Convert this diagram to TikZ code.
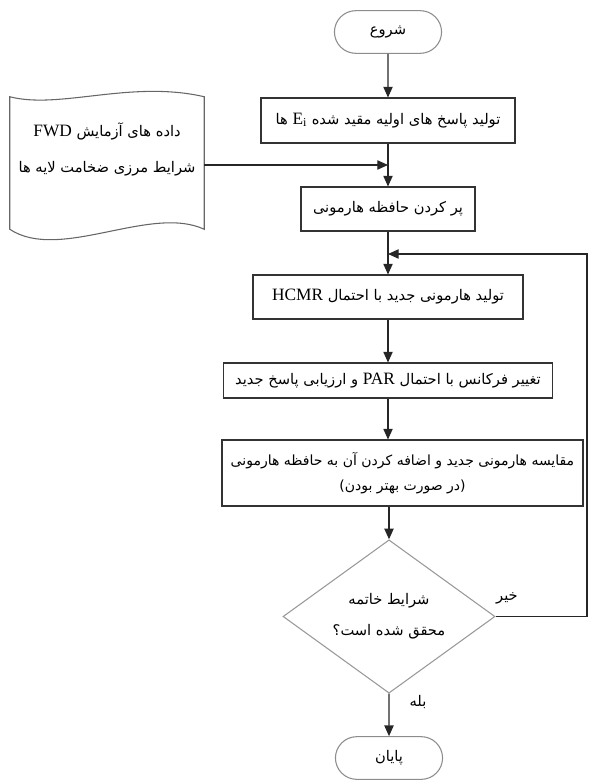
\documentclass[tikz,border=0pt]{standalone}
\usepackage{fontspec}
\setmainfont{Liberation Serif}
\newfontfamily\fa[Script=Arabic]{DejaVu Sans}
\TeXXeTstate=1
\usetikzlibrary{shapes.geometric,shapes.misc,arrows.meta}
\newcommand{\rtl}[1]{{\fa\beginR #1\endR}}
\newcommand{\lat}[1]{{\beginL\normalfont\fontsize{13}{15}\selectfont #1\endL}}

\begin{document}
\begin{tikzpicture}[x=0.75pt,y=-0.75pt,
	font=\fontsize{11}{13}\selectfont,
	box/.style={draw=black!80,line width=0.8pt,inner sep=2pt},
	term/.style={draw=black!45,line width=0.8pt,rounded rectangle,minimum width=87pt,minimum height=32pt},
	cond/.style={draw=black!40,line width=0.8pt,diamond,aspect=1.39,minimum width=159pt,minimum height=115pt,inner sep=0pt},
	arr/.style={draw=black!85,line width=0.8pt,-{Triangle[width=7pt,length=8pt]}},
	line/.style={draw=black!75,line width=0.8pt}]
\useasboundingbox (0,0) rectangle (588,780);
\node[term](start) at (388,32) {\rtl{شروع}};
\node[box,minimum width=190.5pt,minimum height=33.75pt](gen) at (388,120.5) {\rtl{تولید پاسخ های اولیه مقید شده \lat{E\textsubscript{i}} ها}};
\node[align=center,minimum width=145.5pt,minimum height=99pt](data) at (107,163) {\rtl{داده های آزمایش \lat{FWD}}\\[14pt]\rtl{شرایط مرزی ضخامت لایه ها}\\[10pt]};
\node[box,minimum width=130.5pt,minimum height=33pt](fill) at (388,209) {\rtl{پر کردن حافظه هارمونی}};
\node[box,minimum width=202.5pt,minimum height=33pt](newh) at (388,297) {\rtl{تولید هارمونی جدید با احتمال \lat{HCMR}}};
\node[box,minimum width=246.75pt,minimum height=26.25pt](pitch) at (388,380.5) {\rtl{تغییر فرکانس با احتمال \lat{PAR} و ارزیابی پاسخ جدید}};
\node[box,align=center,minimum width=270.75pt,minimum height=49.5pt,font=\fontsize{10.5}{12}\selectfont](cmp) at (402.5,473) {\rtl{مقایسه هارمونی جدید و اضافه کردن آن به حافظه هارمونی}\\[7pt]\rtl{(در صورت بهتر بودن)}};
\node[cond,align=center](stop) at (389,616.5) {\rtl{شرایط خاتمه}\\[10pt]\rtl{محقق شده است؟}};
\node[term](end) at (389,758) {\rtl{پایان}};
\node(no) at (507,598) {\rtl{خیر}};
\node(yes) at (418,702) {\rtl{بله}};
\coordinate(j1) at (388,165);
\coordinate(j2) at (388,254);
\coordinate(edge) at (587,254);
\draw[line,draw=black!60] (data.north west) .. controls +(50,13) and +(-74,-17) .. (data.north east) -- (data.south east) .. controls +(-54,-25) and +(50,33) .. (data.south west) -- cycle;
\draw[arr] (start) -- (gen);
\draw[arr] (gen) -- (fill);
\draw[arr] (data.east |- j1) -- (j1);
\draw[arr] (fill) -- (newh);
\draw[arr] (newh) -- (pitch);
\draw[arr] (pitch) -- (pitch |- cmp.north);
\draw[arr] (stop |- cmp.south) -- (stop);
\draw[arr] (stop) -- (end);
\draw[arr] (stop.east) -| (edge) -- (j2);
\end{tikzpicture}
\end{document}
